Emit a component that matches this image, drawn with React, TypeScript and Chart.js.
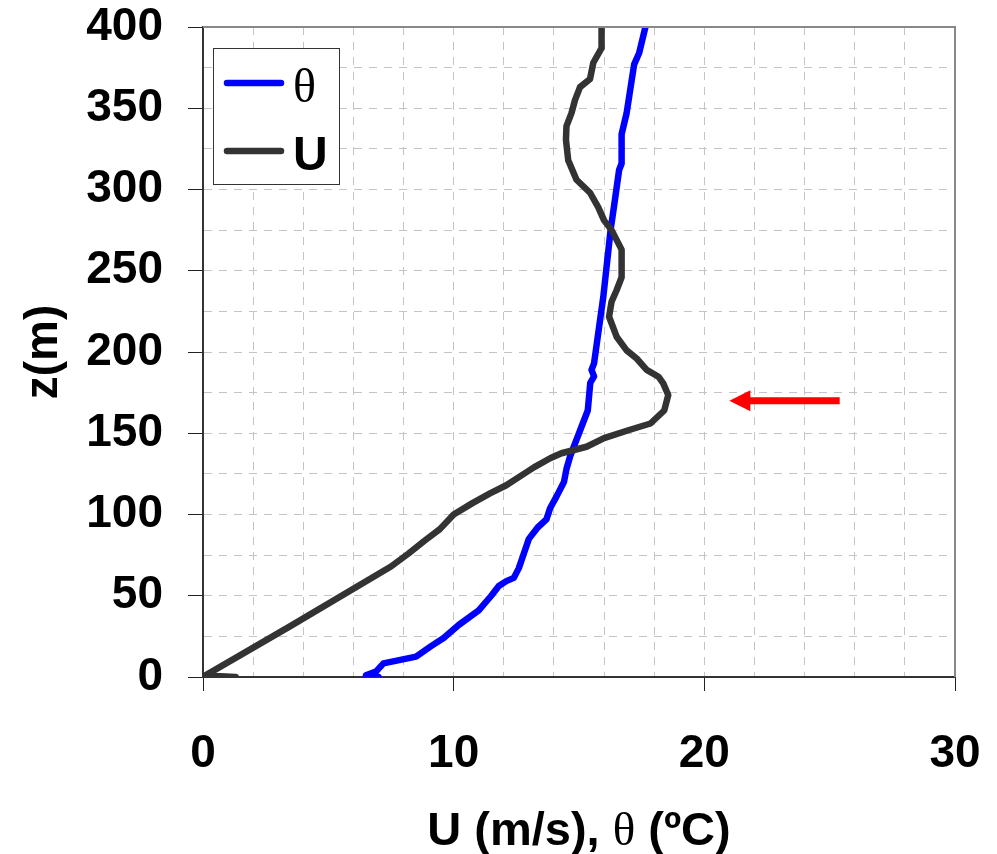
import React, { useEffect, useRef } from 'react';
import { Chart, registerables } from 'chart.js';

Chart.register(...registerables);

// ---- data ----
const thetaHeights = [0, 1, 3.3, 8.4, 12.5, 19, 24, 32, 41, 50, 56, 59, 61, 67, 76, 85, 92, 97, 104, 111, 120, 128, 136, 146, 152, 164, 181, 185, 189, 193, 234, 275, 290, 312, 316, 334, 347, 377, 384, 400];
const thetaValues = [7.0, 6.5, 6.9, 7.2, 8.5, 9.1, 9.6, 10.2, 11.0, 11.5, 11.8, 12.1, 12.4, 12.6, 12.8, 13.0, 13.35, 13.7, 13.85, 14.1, 14.4, 14.5, 14.65, 14.9, 15.05, 15.35, 15.45, 15.6, 15.5, 15.6, 15.97, 16.26, 16.4, 16.6, 16.7, 16.7, 16.9, 17.2, 17.4, 17.65];

const uHeights = [0, 1, 31, 68, 76, 84, 91, 100, 107, 113, 118, 125, 129, 134.6, 137.7, 141.7, 147, 152, 156, 164, 173.5, 180.7, 184.8, 189, 196, 201, 209.4, 221.7, 231, 238, 246, 263, 275, 281, 289, 298, 306, 318, 330.5, 339, 347, 355, 363, 368, 378, 387, 400];
const uValues = [1.3, 0.1, 3.45, 7.5, 8.2, 8.85, 9.45, 10.0, 10.75, 11.45, 12.1, 12.8, 13.2, 13.85, 14.3, 15.3, 16.0, 17.0, 17.85, 18.4, 18.56, 18.36, 18.17, 17.7, 17.3, 16.9, 16.5, 16.2, 16.3, 16.5, 16.7, 16.7, 16.3, 16.0, 15.77, 15.44, 14.9, 14.57, 14.48, 14.5, 14.7, 14.84, 15.04, 15.44, 15.57, 15.9, 15.9];

const seriesLabels = ['θ', 'U'];
const seriesColors = ['#0000ff', '#333333'];

const xRange = [0, 30];
const xLabelStep = 10;
const xGridStep = 2;
const yRange = [0, 400];
const yLabelStep = 50;
const yGridStep = 25;

const xTitle = 'U (m/s), θ (ºC)';
const yTitle = 'z(m)';

// red arrow marking the jet maximum (data coordinates: tail -> tip)
const arrowTail = [25.4, 170];
const arrowTip = [21.0, 170];

const SANS = '"Liberation Sans", Arial, Helvetica, sans-serif';
const SERIF = '"Liberation Serif", "Times New Roman", serif';
const LINE_W = 6.5;

function drawMixed(ctx: CanvasRenderingContext2D, text: string, x: number, y: number, size: number, align: 'left' | 'center') {
  const runs: { t: string; serif: boolean }[] = [];
  for (const ch of text) {
    const serif = ch === 'θ';
    const last = runs[runs.length - 1];
    if (last && last.serif === serif) last.t += ch;
    else runs.push({ t: ch, serif });
  }
  const fontFor = (serif: boolean) => (serif ? `normal ${size}px ${SERIF}` : `bold ${size}px ${SANS}`);
  let total = 0;
  for (const r of runs) {
    ctx.font = fontFor(r.serif);
    total += ctx.measureText(r.t).width;
  }
  let cx = align === 'center' ? x - total / 2 : x;
  ctx.textAlign = 'left';
  ctx.textBaseline = 'alphabetic';
  for (const r of runs) {
    ctx.font = fontFor(r.serif);
    ctx.fillText(r.t, cx, y);
    cx += ctx.measureText(r.t).width;
  }
}

function zeroPadding(s: any) {
  s.paddingTop = 0;
  s.paddingBottom = 0;
  s.paddingLeft = 0;
  s.paddingRight = 0;
}

export default function App() {
  const ref = useRef<HTMLCanvasElement>(null);

  useEffect(() => {
    const canvas = ref.current;
    if (!canvas) return;

    const overlay = {
      id: 'overlay',
      afterDraw(chart: any) {
        const { ctx, chartArea: a, scales } = chart;
        const xs = scales.x;
        const ys = scales.y;
        ctx.save();

        // top and right frame
        ctx.strokeStyle = '#888888';
        ctx.lineWidth = 2;
        ctx.beginPath();
        ctx.moveTo(a.left, a.top);
        ctx.lineTo(a.right, a.top);
        ctx.lineTo(a.right, a.bottom);
        ctx.stroke();

        // arrow
        const tx = xs.getPixelForValue(arrowTail[0]);
        const ty = ys.getPixelForValue(arrowTail[1]);
        const hx = xs.getPixelForValue(arrowTip[0]);
        const hy = ys.getPixelForValue(arrowTip[1]);
        const headLen = 21;
        const headHalf = 10.5;
        const shaft = 7;
        ctx.fillStyle = '#ff0000';
        ctx.fillRect(hx + headLen - 1, ty - shaft / 2, tx - (hx + headLen - 1), shaft);
        ctx.beginPath();
        ctx.moveTo(hx, hy);
        ctx.lineTo(hx + headLen, hy - headHalf);
        ctx.lineTo(hx + headLen, hy + headHalf);
        ctx.closePath();
        ctx.fill();

        // legend box
        const bx = a.left + 10;
        const by = a.top + 21;
        const bw = 126;
        const bh = 136;
        ctx.fillStyle = '#ffffff';
        ctx.fillRect(bx, by, bw, bh);
        ctx.strokeStyle = '#333333';
        ctx.lineWidth = 1;
        ctx.strokeRect(bx + 0.5, by + 0.5, bw, bh);
        const rows = [by + 35, by + 103];
        chart.data.datasets.forEach((ds: any, i: number) => {
          const ly = rows[i];
          ctx.strokeStyle = ds.borderColor;
          ctx.lineWidth = LINE_W;
          ctx.lineCap = 'round';
          ctx.beginPath();
          ctx.moveTo(bx + 14, ly);
          ctx.lineTo(bx + 68, ly);
          ctx.stroke();
          ctx.fillStyle = '#000000';
          drawMixed(ctx, ds.label, bx + 80, ly + 19, 48, 'left');
        });

        // x-axis title (mixed fonts)
        ctx.fillStyle = '#000000';
        drawMixed(ctx, xTitle, (a.left + a.right) / 2, 845, 47, 'center');

        ctx.restore();
      },
    };

    const tickFont = { family: SANS, size: 46, weight: 'bold' as const };

    const chart = new Chart(canvas, {
      type: 'line',
      data: {
        datasets: [
          {
            label: seriesLabels[0],
            data: thetaHeights.map((z, i) => ({ x: thetaValues[i], y: z })),
            borderColor: seriesColors[0],
            backgroundColor: seriesColors[0],
            pointRadius: 0,
            borderWidth: LINE_W,
            borderJoinStyle: 'round',
            borderCapStyle: 'round',
            tension: 0,
            fill: false,
            order: 1,
          },
          {
            label: seriesLabels[1],
            data: uHeights.map((z, i) => ({ x: uValues[i], y: z })),
            borderColor: seriesColors[1],
            backgroundColor: seriesColors[1],
            pointRadius: 0,
            borderWidth: LINE_W,
            borderJoinStyle: 'round',
            borderCapStyle: 'round',
            tension: 0,
            fill: false,
            order: 0,
          },
        ],
      },
      options: {
        responsive: false,
        animation: false,
        devicePixelRatio: 1,
        elements: { line: { borderWidth: LINE_W, borderJoinStyle: 'round', borderCapStyle: 'round' } },
        layout: { padding: { left: 0, top: 27, right: 42, bottom: 0 } },
        plugins: {
          legend: { display: false },
          tooltip: { enabled: false },
        },
        scales: {
          x: {
            type: 'linear',
            min: xRange[0],
            max: xRange[1],
            afterFit(s: any) {
              s.height = 177;
              zeroPadding(s);
            },
            ticks: {
              stepSize: xGridStep,
              autoSkip: false,
              maxRotation: 0,
              minRotation: 0,
              padding: 36,
              color: '#000000',
              font: { ...tickFont, lineHeight: 1.2 },
              callback: (v: any) => (Number(v) % xLabelStep === 0 ? String(v) : ''),
            },
            grid: {
              color: (c: any) => {
                const v = c.tick ? c.tick.value : null;
                return v === xRange[0] || v === xRange[1] ? 'rgba(0,0,0,0)' : '#c4c4c4';
              },
              lineWidth: 1,
              tickLength: 14,
              tickWidth: 1,
              tickColor: (c: any) => {
                const v = c.tick ? c.tick.value : null;
                return v !== null && v % xLabelStep === 0 ? '#222222' : 'rgba(0,0,0,0)';
              },
            },
            border: { display: true, color: '#333333', width: 2, dash: [8, 7] },
          },
          y: {
            type: 'linear',
            min: yRange[0],
            max: yRange[1],
            afterFit(s: any) {
              s.width = 203;
              zeroPadding(s);
            },
            ticks: {
              stepSize: yGridStep,
              autoSkip: false,
              padding: 25,
              color: '#000000',
              font: { ...tickFont, lineHeight: 1.0 },
              callback: (v: any) => (Number(v) % yLabelStep === 0 ? String(v) : ''),
            },
            grid: {
              color: (c: any) => {
                const v = c.tick ? c.tick.value : null;
                return v === yRange[0] || v === yRange[1] ? 'rgba(0,0,0,0)' : '#c4c4c4';
              },
              lineWidth: 1,
              tickLength: 15,
              tickWidth: 1,
              tickColor: (c: any) => {
                const v = c.tick ? c.tick.value : null;
                return v !== null && v % yLabelStep === 0 ? '#222222' : 'rgba(0,0,0,0)';
              },
            },
            border: { display: true, color: '#333333', width: 2, dash: [8, 7] },
            title: {
              display: true,
              text: yTitle,
              color: '#000000',
              font: { family: SANS, size: 46, weight: 'bold', lineHeight: 1.2 },
              padding: { top: 17, bottom: 0 },
            },
          },
        },
      },
      plugins: [overlay],
    } as any);

    return () => chart.destroy();
  }, []);

  return (
    <canvas
      ref={ref}
      width={997}
      height={854}
      style={{ position: 'absolute', left: 0, top: 0, width: 997, height: 854, display: 'block' }}
    />
  );
}
